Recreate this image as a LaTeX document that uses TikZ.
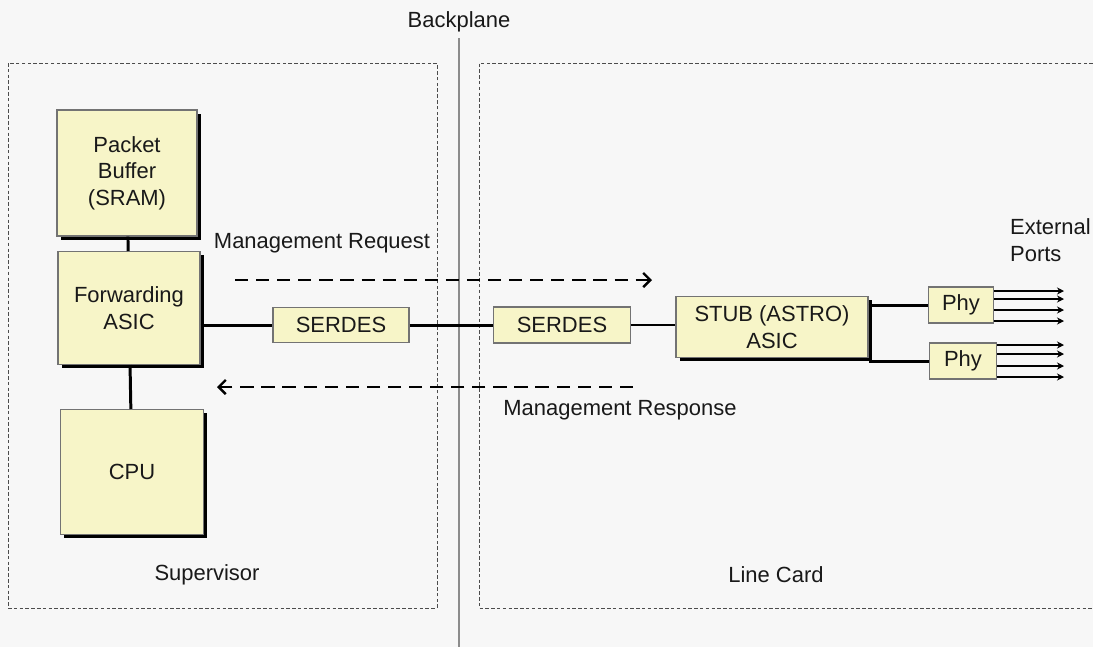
\documentclass[tikz,border=0pt]{standalone}
\usepackage{fontspec}
\setmainfont{Liberation Sans}
\usetikzlibrary{arrows.meta,shadows}
\definecolor{chipfill}{RGB}{247,245,200}
\definecolor{pagegray}{RGB}{247,247,247}

\begin{document}
\begin{tikzpicture}[x=0.02cm,y=-0.02cm,
    every node/.style={font=\fontsize{12.5}{15}\selectfont,text=black!90},
    chip/.style={draw=black!55,fill=chipfill,line width=0.6pt,align=center,inner sep=0pt},
    chipshadow/.style={chip,general shadow={fill=black,shadow xshift=2pt,shadow yshift=-2pt}},
    cardline/.style={draw=black!70,line width=0.5pt,dash pattern=on 2pt off 1.3pt},
    bus/.style={line width=1.7pt},
    mgmt/.style={line width=1.4pt,dash pattern=on 7.5pt off 4.5pt,-{Straight Barb[length=4pt,width=8pt,line width=1.4pt]}},
    port/.style={line width=0.6pt,-{Stealth[length=4pt,width=4pt]}}]
    \useasboundingbox (0,0) rectangle (1093,647);
    \fill[pagegray] (0,0) rectangle (1093,647);

    % supervisor and line card areas
    \draw[cardline] (8,63) rectangle (437,608);
    \draw[cardline] (1093,63) -- (479,63) -- (479,608) -- (1093,608);
    \node (sup) at (207,575) {Supervisor};
    \node (lc) at (776,575) {Line Card};

    % backplane
    \node (bp) at (459,22) {Backplane};
    \coordinate (bpend) at (459,647);
    \draw[black!45,line width=1.1pt] (bp.south) -- (bpend);

    % supervisor blocks
    \node[chipshadow,minimum width=2.8cm,minimum height=2.52cm] (buf) at (127,173) {Packet\\Buffer\\(SRAM)};
    \node[chipshadow,minimum width=2.84cm,minimum height=2.26cm] (fwd) at (129,308) {Forwarding\\ASIC};
    \node[chipshadow,minimum width=2.86cm,minimum height=2.5cm] (cpu) at (132,472) {CPU};
    \node[chip,minimum width=2.72cm,minimum height=0.7cm] (serL) at (341,325) {SERDES};

    % line card blocks
    \node[chip,minimum width=2.74cm,minimum height=0.72cm] (serR) at (562,325) {SERDES};
    \node[chipshadow,minimum width=3.84cm,minimum height=1.22cm] (stub) at (772,327) {STUB (ASTRO)\\ASIC};
    \node[chip,minimum width=1.3cm,minimum height=0.72cm] (phyA) at (961,305) {Phy};
    \node[chip,minimum width=1.34cm,minimum height=0.72cm] (phyB) at (963,361) {Phy};
    \node[align=left,anchor=west] (ext) at (1004,240) {External\\Ports};

    % links
    \draw[bus] (buf) -- (fwd);
    \draw[bus] (fwd) -- (cpu);
    \draw[bus] (fwd.east |- serL.west) -- (serL.west);
    \draw[bus] (serL) -- (serR);
    \draw[line width=1.1pt] (serR) -- (serR -| stub.west);
    \draw[bus] (stub.east |- phyA.west) -- (phyA.west);
    \draw[bus] (stub.east |- phyB.west) -- (phyB.west);

    % external ports
    \foreach \py [count=\i] in {291,299,310,321}{
        \coordinate (pa\i) at (1064,\py);
        \draw[port] (phyA.east |- pa\i) -- (pa\i);
    }
    \foreach \py [count=\i] in {345,354,366,377}{
        \coordinate (pb\i) at (1064,\py);
        \draw[port] (phyB.east |- pb\i) -- (pb\i);
    }

    % management traffic
    \coordinate (reqS) at (235,280);
    \coordinate (reqE) at (652,280);
    \draw[mgmt] (reqS) -- (reqE);
    \node (req) at (322,243) {Management Request};
    \coordinate (rspS) at (633,387);
    \coordinate (rspE) at (217,387);
    \draw[mgmt] (rspS) -- (rspE);
    \node (rsp) at (620,410) {Management Response};
\end{tikzpicture}
\end{document}
